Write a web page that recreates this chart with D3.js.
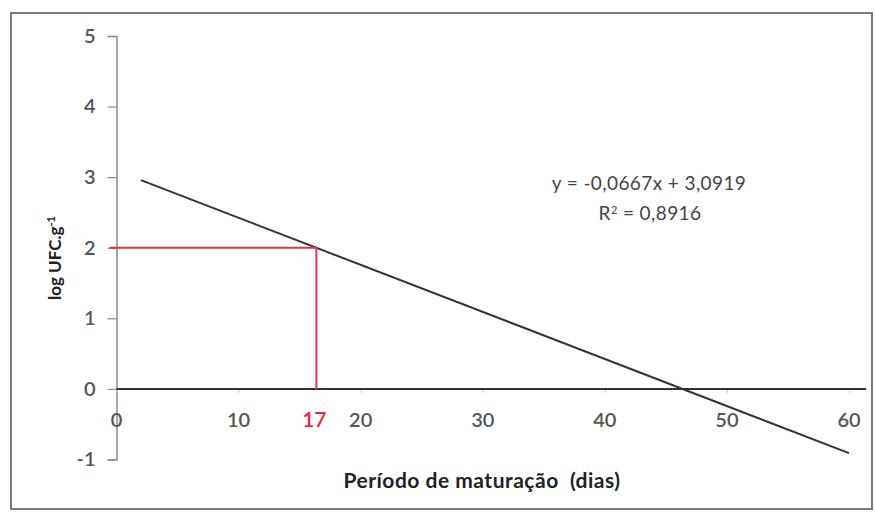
<!DOCTYPE html>
<html>
<head>
<meta charset="utf-8">
<script src="https://cdn.jsdelivr.net/npm/d3@7"></script>
<style>
  html, body { margin: 0; padding: 0; background: #fff; }
  svg { display: block; }
  text { font-family: Lato, "Open Sans", sans-serif; white-space: pre; }
</style>
</head>
<body>
<svg id="chart" width="875" height="515"></svg>
<script>
// Linear regression of microbial count against ripening time
const slope = -0.0667;
const intercept = 3.0919;
const rSquared = 0.8916;
const fitRange = [2, 60];             // days covered by the fitted line
const targetLog = 2;                  // reference count (log UFC/g)
const targetLabel = "17";             // ripening day marked on the axis
const xTicks = [0, 10, 20, 30, 40, 50, 60];
const yTicks = [-1, 0, 1, 2, 3, 4, 5];

const svg = d3.select("#chart");

const x = d3.scaleLinear().domain([0, 60]).range([116.5, 849]);
const y = d3.scaleLinear().domain([-1, 5]).range([459.5, 36]);

// outer frame
svg.append("rect")
  .attr("x", 11).attr("y", 13).attr("width", 861).attr("height", 496)
  .attr("fill", "#fff").attr("stroke", "#7a7a7a").attr("stroke-width", 2);

// y axis on the left, outward ticks (plain hyphen for negatives)
const yAxis = svg.append("g")
  .attr("transform", `translate(${x(0)},0)`)
  .call(d3.axisLeft(y).tickValues(yTicks).tickSize(9).tickPadding(12)
    .tickFormat(d => String(d)));
yAxis.select(".domain").attr("stroke", "#8a8a8a").attr("stroke-width", 1.5);
yAxis.selectAll(".tick line").attr("stroke", "#8a8a8a").attr("stroke-width", 1.2);
yAxis.selectAll("text")
  .attr("fill", "#555").attr("font-size", 20).attr("font-weight", 600)
  .attr("font-family", "Lato, sans-serif");

// x axis crossing at zero, labels set below the plot
const xAxis = svg.append("g")
  .attr("transform", `translate(0,${y(0)})`)
  .call(d3.axisBottom(x).tickValues(xTicks).tickSize(4).tickFormat(""));
xAxis.select(".domain").remove();
xAxis.selectAll(".tick line").attr("stroke", "#c8c8c8").attr("stroke-width", 1);
svg.append("line")
  .attr("x1", x(0)).attr("x2", x(61.4))
  .attr("y1", y(0)).attr("y2", y(0))
  .attr("stroke", "#333").attr("stroke-width", 2);

svg.append("g").selectAll("text")
  .data(xTicks)
  .join("text")
  .attr("x", d => x(d))
  .attr("y", y(0) + 38)
  .attr("text-anchor", "middle")
  .attr("fill", "#555").attr("font-size", 20).attr("font-weight", 600)
  .text(d => d);

// regression line
const fit = d => slope * d + intercept;
svg.append("line")
  .attr("x1", x(fitRange[0])).attr("y1", y(fit(fitRange[0])))
  .attr("x2", x(fitRange[1])).attr("y2", y(fit(fitRange[1])))
  .attr("stroke", "#333").attr("stroke-width", 2);

// reference guide: day at which the fit reaches the target count
const dayAtTarget = (targetLog - intercept) / slope;
const red = "#e0364e";
svg.append("path")
  .attr("d", d3.line()([
    [x(0) - 7, y(targetLog)],
    [x(dayAtTarget), y(targetLog)],
    [x(dayAtTarget), y(0)]
  ]))
  .attr("fill", "none").attr("stroke", red).attr("stroke-width", 2);

svg.append("text")
  .attr("x", x(dayAtTarget) - 2)
  .attr("y", y(0) + 38)
  .attr("text-anchor", "middle")
  .attr("fill", "#e8283c").attr("font-size", 21).attr("font-weight", 600)
  .text(targetLabel);

// equation and coefficient of determination
const fmt = v => String(v).replace(".", ",");
const eq = svg.append("g").attr("fill", "#444").attr("font-size", 19);
eq.append("text")
  .attr("x", 649).attr("y", 190).attr("text-anchor", "middle")
  .attr("letter-spacing", 0.4)
  .text(`y = ${fmt(slope)}x + ${fmt(intercept)}`);
const r2 = eq.append("text")
  .attr("x", 650).attr("y", 220).attr("text-anchor", "middle")
  .attr("letter-spacing", 0.4);
r2.append("tspan").text("R");
r2.append("tspan").attr("baseline-shift", "super").attr("font-size", 11).text("2");
r2.append("tspan").text(` = ${fmt(rSquared)}`);

// axis titles
svg.append("text")
  .attr("x", 482).attr("y", 488)
  .attr("text-anchor", "middle")
  .attr("fill", "#222").attr("font-size", 21).attr("font-weight", 700)
  .attr("letter-spacing", 0.5)
  .text("Período de maturação  (dias)");

const yt = svg.append("text")
  .attr("transform", "translate(61,258) rotate(-90)")
  .attr("text-anchor", "middle")
  .attr("fill", "#222").attr("font-size", 17).attr("font-weight", 700);
yt.append("tspan").text("log UFC.g");
yt.append("tspan").attr("baseline-shift", "super").attr("font-size", 11).text("-1");
</script>
</body>
</html>
